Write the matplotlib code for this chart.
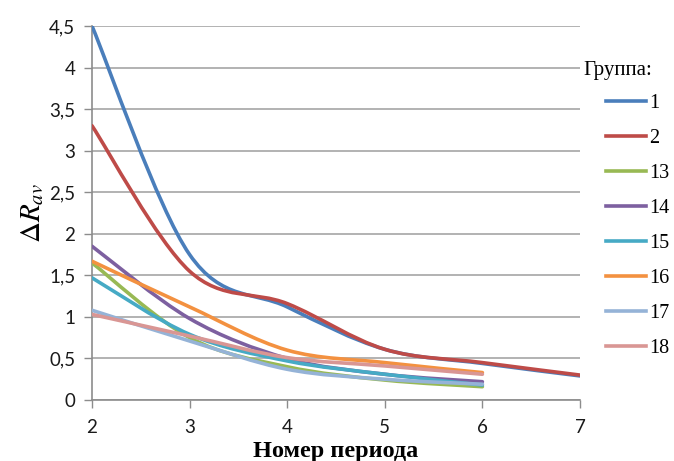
import numpy as np
import matplotlib
matplotlib.use('Agg')
import matplotlib.pyplot as plt
from matplotlib.path import Path
from matplotlib.patches import PathPatch
from matplotlib.lines import Line2D

plt.rcParams['mathtext.fontset'] = 'stix'

# Data
groups = ['1', '2', '13', '14', '15', '16', '17', '18']
periods_long = [2, 3, 4, 5, 6, 7]
periods_short = [2, 3, 4, 5, 6]
g1 = [4.5, 1.75, 1.12, 0.61, 0.44, 0.29]
g2 = [3.3, 1.55, 1.16, 0.61, 0.45, 0.30]
g13 = [1.65, 0.75, 0.40, 0.24, 0.16]
g14 = [1.85, 0.98, 0.50, 0.31, 0.22]
g15 = [1.47, 0.79, 0.47, 0.31, 0.18]
g16 = [1.67, 1.12, 0.60, 0.45, 0.33]
g17 = [1.08, 0.71, 0.37, 0.25, 0.19]
g18 = [1.03, 0.77, 0.51, 0.41, 0.31]
series = [g1, g2, g13, g14, g15, g16, g17, g18]
colors = ['#4A7EBB', '#BE4B48', '#98B954', '#7D60A0', '#46AAC5',
          '#F39140', '#95B3D7', '#D99694']
yticks = [0, 0.5, 1, 1.5, 2, 2.5, 3, 3.5, 4, 4.5]
ytick_labels = ['0', '0,5', '1', '1,5', '2', '2,5', '3', '3,5', '4', '4,5']


# Excel-style smoothed line: cubic Bezier segments through the points
def smooth_path(xs, ys):
    pts = np.column_stack([xs, ys]).astype(float)
    n = len(pts)
    verts = [pts[0]]
    codes = [Path.MOVETO]
    for i in range(n - 1):
        p0 = pts[i - 1] if i > 0 else pts[i]
        p1 = pts[i]
        p2 = pts[i + 1]
        p3 = pts[i + 2] if i + 2 < n else pts[i + 1]
        c1 = p1 + (p2 - p0) / 6.0
        c2 = p2 - (p3 - p1) / 6.0
        verts += [c1, c2, p2]
        codes += [Path.CURVE4] * 3
    return Path(verts, codes)


fig = plt.figure(figsize=(6.74, 4.61), dpi=100)
ax = fig.add_axes([0.1365, 0.1323, 0.724, 0.8113])

handles = []
for vals, col, name in zip(series, colors, groups):
    xs = periods_long if len(vals) == len(periods_long) else periods_short
    patch = PathPatch(smooth_path(xs, vals), facecolor='none', edgecolor=col,
                      lw=2.6, capstyle='round', joinstyle='round', zorder=3)
    ax.add_patch(patch)
    handles.append(Line2D([], [], color=col, lw=2.6, label=name))

ax.set_xlim(2, 7)
ax.set_ylim(0, 4.5)
ax.set_xticks([2, 3, 4, 5, 6, 7])
ax.set_yticks(yticks)
ax.set_yticklabels(ytick_labels)
ax.tick_params(axis='both', direction='out', length=6, width=1, color='#8c8c8c',
               labelsize=13.5, labelcolor='#1a1a1a')
ax.tick_params(axis='x', pad=8)
ax.tick_params(axis='y', pad=6)
for lab in ax.get_xticklabels() + ax.get_yticklabels():
    lab.set_fontfamily('Lato')

ax.grid(axis='y', color='#a6a6a6', lw=1.2)
ax.set_axisbelow(True)
for s in ['top', 'right']:
    ax.spines[s].set_visible(False)
for s in ['left', 'bottom']:
    ax.spines[s].set_color('#8c8c8c')
    ax.spines[s].set_linewidth(1.2)

ax.set_ylabel(r'$\mathit{\Delta R_{av}}$', fontsize=21, labelpad=2)
fig.text(0.5 * (92 + 580) / 674, 1 - 451 / 461, 'Номер периода',
         fontsize=17.5, fontweight='bold', fontfamily='Liberation Serif',
         ha='center', va='center')

fig.text(583 / 674, 1 - 71 / 461, 'Группа:', fontsize=15,
         fontfamily='Liberation Serif', ha='left', va='center')
leg = fig.legend(handles=handles, loc='upper left',
                 bbox_to_anchor=(606 / 674, 1 - 94 / 461), frameon=False,
                 prop={'family': 'Liberation Serif', 'size': 14.5},
                 handlelength=2.0, handletextpad=0.15, labelspacing=0.79,
                 borderaxespad=0, borderpad=0)

plt.savefig('out.png', dpi=100)
plt.close()
